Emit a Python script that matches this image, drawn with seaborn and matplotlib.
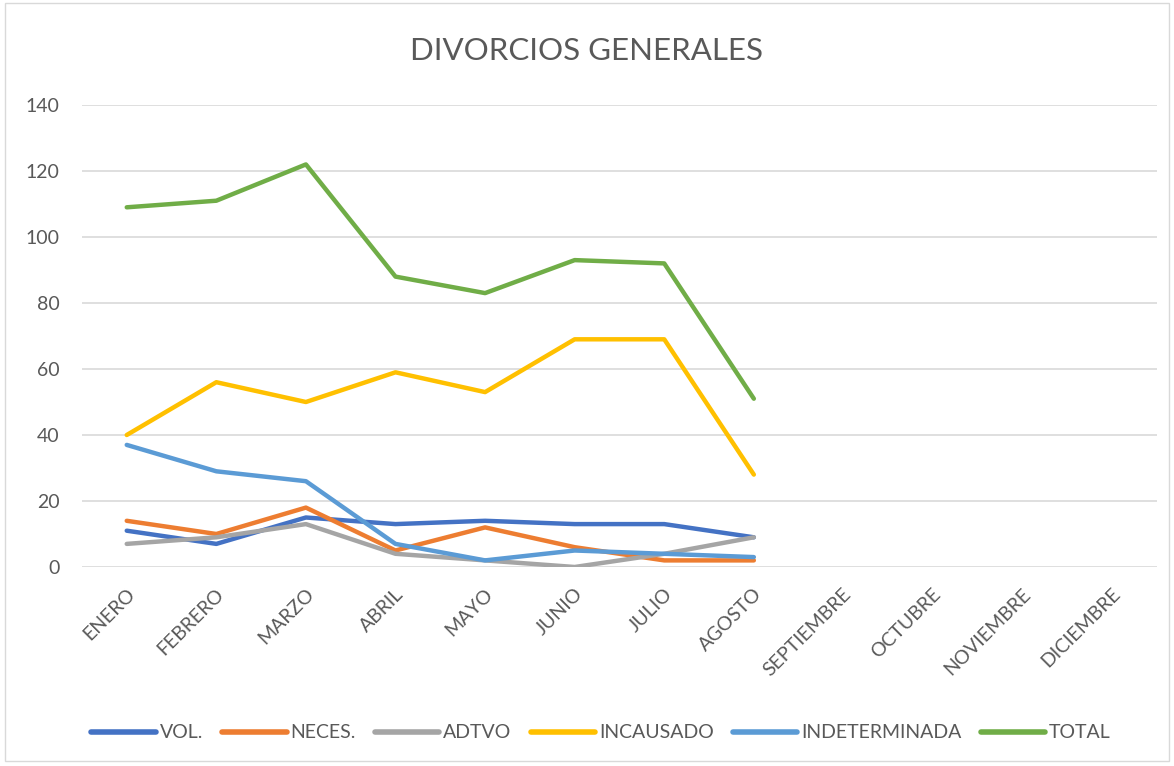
import pandas as pd
import matplotlib.pyplot as plt
import matplotlib.transforms as mtransforms
import seaborn as sns

# ================= DATOS =================
MESES = ["ENERO", "FEBRERO", "MARZO", "ABRIL", "MAYO", "JUNIO", "JULIO",
         "AGOSTO", "SEPTIEMBRE", "OCTUBRE", "NOVIEMBRE", "DICIEMBRE"]

vol = [11, 7, 15, 13, 14, 13, 13, 9]
neces = [14, 10, 18, 5, 12, 6, 2, 2]
adtvo = [7, 9, 13, 4, 2, 0, 4, 9]
incausado = [40, 56, 50, 59, 53, 69, 69, 28]
indeterminada = [37, 29, 26, 7, 2, 5, 4, 3]
total = [109, 111, 122, 88, 83, 93, 92, 51]

SERIES = {
    "VOL.": vol,
    "NECES.": neces,
    "ADTVO": adtvo,
    "INCAUSADO": incausado,
    "INDETERMINADA": indeterminada,
    "TOTAL": total,
}
COLORES = ["#4472C4", "#ED7D31", "#A5A5A5", "#FFC000", "#5B9BD5", "#70AD47"]

# long-form para seaborn
filas = []
for nombre, valores in SERIES.items():
    for i, v in enumerate(valores):
        filas.append({"mes": i, "tipo": nombre, "valor": v})
df = pd.DataFrame(filas)

sns.set_theme(style="white")
plt.rcParams['font.family'] = ['Lato', 'DejaVu Sans']
gris = "#595959"

fig = plt.figure(figsize=(11.74, 7.66), dpi=100)
ax = fig.add_axes([0.0698, 0.2598, 0.9157, 0.6031])

sns.lineplot(data=df, x="mes", y="valor", hue="tipo", palette=COLORES,
             linewidth=3.2, ax=ax, legend=True)
for ln in ax.get_lines():
    ln.set_solid_capstyle("round")
    ln.set_solid_joinstyle("round")

ax.set_xlim(-0.5, 11.5)
ax.set_ylim(0, 140)
ax.set_yticks(range(0, 141, 20))
ax.set_xticks(range(12))
ax.set_xticklabels(MESES, rotation=45, ha="right", va="top", rotation_mode="anchor")
ax.tick_params(axis="both", labelsize=14, labelcolor=gris, length=0)
ax.tick_params(axis="x", pad=13)
ax.tick_params(axis="y", pad=16)
desplazar = mtransforms.ScaledTranslation(-1 / 100, 0, fig.dpi_scale_trans)
for lbl in ax.get_xticklabels():
    lbl.set_transform(lbl.get_transform() + desplazar)
ax.yaxis.grid(True, color="#D9D9D9", linewidth=1.2)
ax.set_axisbelow(True)
for s in ax.spines.values():
    s.set_visible(False)
ax.set_xlabel("")
ax.set_ylabel("")

fig.text(0.5, 0.933, "DIVORCIOS GENERALES", ha="center", va="center",
         fontsize=22.5, color=gris)

handles, labels = ax.get_legend_handles_labels()
leg = ax.legend(handles, labels, loc="center", bbox_to_anchor=(0.483, -0.359),
                ncol=6, frameon=False, fontsize=14, handlelength=3.3,
                columnspacing=1.0, handletextpad=0.2, labelcolor=gris)
for h in leg.get_lines():
    h.set_linewidth(4)
    h.set_solid_capstyle("round")

# borde del area del grafico
fig.patches.append(plt.Rectangle((0.004, 0.006), 0.992, 0.99, transform=fig.transFigure,
                                 fill=False, edgecolor="#D9D9D9", linewidth=1))

fig.savefig("out.png", dpi=100)
